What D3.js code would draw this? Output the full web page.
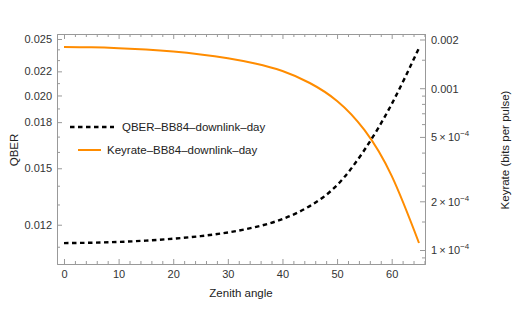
<!DOCTYPE html>
<html><head><meta charset="utf-8">
<script src="https://cdn.jsdelivr.net/npm/d3@7"></script>
<style>
body{margin:0;background:#fff;}
text{font-family:"Liberation Sans",Arial,sans-serif;}
</style></head>
<body><svg id="c" width="518" height="311"></svg>
<script>
const zenith = [0,5,10,15,20,25,30,35,40,45,50,55,60,65];
const qber = [0.011159,0.011177,0.011212,0.011270,0.011355,0.011472,0.011637,0.011888,0.012270,0.012917,0.014035,0.016121,0.019332,0.024126];
const keyrate = [0.001798,0.001790,0.001767,0.001732,0.001684,0.001618,0.001532,0.001421,0.001277,0.001077,0.000834,0.000552,0.000287,0.0001105];
const xTicks = [0,10,20,30,40,50,60];
const qberTicks = [0.012,0.015,0.018,0.020,0.022,0.025];
const qberTickLabels = ["0.012","0.015","0.018","0.020","0.022","0.025"];
const qberMinor = [0.011,0.013,0.014,0.016,0.017,0.019,0.021,0.023,0.024];
const keyTicks = [0.0001,0.0002,0.0005,0.001,0.002];
const keyTickLabels = [["1","−4"],["2","−4"],["5","−4"],["0.001",null],["0.002",null]];
const keyMinor = [0.00009,0.00015,0.00025,0.0003,0.0004,0.0006,0.0007,0.0008,0.0009,0.0015];
const seriesNames = ["QBER–BB84–downlink–day","Keyrate–BB84–downlink–day"];

const svg = d3.select("#c");
const L=57,R=425,T=34,B=264;
const axisCol="#999", labCol="#333";
const x = d3.scaleLinear().domain([-1.28,66.1]).range([L,R]);
const yL = d3.scaleLog().domain([0.010275,0.0255]).range([B,T]);
const yR = d3.scaleLog().domain([8.194e-5,0.002163]).range([B,T]);

function style(g){
  g.selectAll("path.domain").attr("stroke",axisCol);
  g.selectAll(".tick line").attr("stroke",axisCol);
  g.selectAll("text").attr("fill",labCol).style("font-size","11px").style("font-family","'Liberation Sans',Arial,sans-serif");
}
// bottom
const xMinor = d3.range(-0,67,2).filter(v=>v%10!==0);
let g=svg.append("g").attr("transform",`translate(0,${B})`).call(d3.axisBottom(x).tickValues(xTicks).tickSizeInner(-5).tickSizeOuter(0).tickPadding(6));
style(g);
g=svg.append("g").attr("transform",`translate(0,${B})`).call(d3.axisBottom(x).tickValues(xMinor).tickSizeInner(-3).tickSizeOuter(0).tickFormat(""));
style(g);
// top
g=svg.append("g").attr("transform",`translate(0,${T})`).call(d3.axisTop(x).tickValues(xTicks).tickSizeInner(-5).tickSizeOuter(0).tickFormat(""));
style(g);
g=svg.append("g").attr("transform",`translate(0,${T})`).call(d3.axisTop(x).tickValues(xMinor).tickSizeInner(-3).tickSizeOuter(0).tickFormat(""));
style(g);
// left
g=svg.append("g").attr("transform",`translate(${L},0)`).call(d3.axisLeft(yL).tickValues(qberTicks).tickSizeInner(-5).tickSizeOuter(0).tickPadding(5).tickFormat((d,i)=>qberTickLabels[i]));
style(g);
g=svg.append("g").attr("transform",`translate(${L},0)`).call(d3.axisLeft(yL).tickValues(qberMinor).tickSizeInner(-3).tickSizeOuter(0).tickFormat(""));
style(g);
// right
g=svg.append("g").attr("transform",`translate(${R},0)`).call(d3.axisRight(yR).tickValues(keyTicks).tickSizeInner(-5).tickSizeOuter(0).tickPadding(6).tickFormat(""));
style(g);
g.selectAll(".tick").each(function(d,i){
  const t=d3.select(this).append("text").attr("x",6).attr("dy","0.35em").attr("fill",labCol).style("font-size","11px");
  const lab=keyTickLabels[i];
  if(lab[1]===null){t.text(lab[0]);}
  else{
    t.append("tspan").text(lab[0]+"\u2009×\u200910");
    t.append("tspan").attr("dy","-5").style("font-size","8px").text(lab[1]);
  }
});
g=svg.append("g").attr("transform",`translate(${R},0)`).call(d3.axisRight(yR).tickValues(keyMinor).tickSizeInner(-3).tickSizeOuter(0).tickFormat(""));
style(g);

// lines
const lineQ = d3.line().x((d,i)=>x(zenith[i])).y(d=>yL(d)).curve(d3.curveNatural);
const lineK = d3.line().x((d,i)=>x(zenith[i])).y(d=>yR(d)).curve(d3.curveNatural);
svg.append("path").attr("d",lineK(keyrate)).attr("fill","none").attr("stroke","#ff8c00").attr("stroke-width",2);
svg.append("path").attr("d",lineQ(qber)).attr("fill","none").attr("stroke","#000").attr("stroke-width",2.4).attr("stroke-dasharray","4.5,3.5");

// legend
svg.append("line").attr("x1",70).attr("x2",114).attr("y1",127).attr("y2",127).attr("stroke","#000").attr("stroke-width",2.4).attr("stroke-dasharray","4.5,3.5");
svg.append("text").attr("x",122).attr("y",127).attr("dy","0.35em").attr("fill","#222").style("font-size","11.5px").text(seriesNames[0]);
svg.append("line").attr("x1",78).attr("x2",101).attr("y1",150).attr("y2",150).attr("stroke","#ff8c00").attr("stroke-width",2);
svg.append("text").attr("x",107).attr("y",150).attr("dy","0.35em").attr("fill","#222").style("font-size","11.5px").text(seriesNames[1]);

// axis titles
svg.append("text").attr("transform","translate(14,150) rotate(-90)").attr("text-anchor","middle").attr("dy","0.35em").attr("fill","#222").style("font-size","11.5px").text("QBER");
svg.append("text").attr("transform","translate(505,150) rotate(-90)").attr("text-anchor","middle").attr("dy","0.35em").attr("fill","#222").style("font-size","11.5px").text("Keyrate (bits per pulse)");
svg.append("text").attr("x",241).attr("y",293).attr("text-anchor","middle").attr("dy","0.35em").attr("fill","#222").style("font-size","11.5px").text("Zenith angle");
</script></body></html>
